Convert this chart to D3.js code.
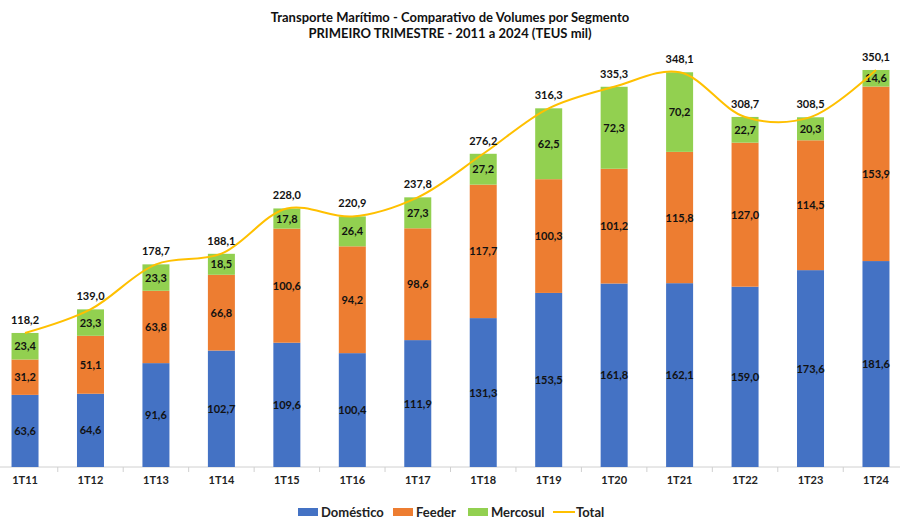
<!DOCTYPE html>
<html><head><meta charset="utf-8">
<script src="https://cdn.jsdelivr.net/npm/d3@7"></script>
<style>body{margin:0;background:#fff}svg{display:block;font-family:Lato,"Open Sans",sans-serif}</style>
</head><body><svg id="c" width="900" height="530"></svg>
<script>
const categories = ["1T11","1T12","1T13","1T14","1T15","1T16","1T17","1T18","1T19","1T20","1T21","1T22","1T23","1T24"];
const domestico = [63.6,64.6,91.6,102.7,109.6,100.4,111.9,131.3,153.5,161.8,162.1,159.0,173.6,181.6];
const feeder    = [31.2,51.1,63.8,66.8,100.6,94.2,98.6,117.7,100.3,101.2,115.8,127.0,114.5,153.9];
const mercosul  = [23.4,23.3,23.3,18.5,17.8,26.4,27.3,27.2,62.5,72.3,70.2,22.7,20.3,14.6];
const total     = [118.2,139.0,178.7,188.1,228.0,220.9,237.8,276.2,316.3,335.3,348.1,308.7,308.5,350.1];
const seriesNames = ["Doméstico","Feeder","Mercosul"];
const colors = {"Doméstico":"#4472C4","Feeder":"#ED7D31","Mercosul":"#92D050","Total":"#FFC000"};

const svg = d3.select("#c");
const fmt = v => d3.format(".1f")(v).replace(".", ",");

const x = d3.scaleBand().domain(categories).range([-7.7, 908.7]).paddingInner(0).paddingOuter(0);
const bw = 27;
const y = d3.scaleLinear().domain([0,400]).range([467, 13.4]);

const rows = categories.map((c,i)=>({cat:c,"Doméstico":domestico[i],"Feeder":feeder[i],"Mercosul":mercosul[i],total:total[i]}));
const stack = d3.stack().keys(seriesNames)(rows);

// title
svg.append("text").attr("x",450).attr("y",22).attr("text-anchor","middle")
  .attr("font-size",13).attr("font-weight","bold").attr("fill","#111")
  .text("Transporte Marítimo - Comparativo de Volumes por Segmento");
svg.append("text").attr("x",450).attr("y",38).attr("text-anchor","middle")
  .attr("font-size",13).attr("font-weight","bold").attr("fill","#111")
  .text("PRIMEIRO TRIMESTRE - 2011 a 2024 (TEUS mil)");

// axis
const xAxis = d3.axisBottom(x).tickSize(0).tickPadding(9);
const ax = svg.append("g").attr("transform","translate(0,467)").call(xAxis);
ax.select(".domain").attr("stroke","#d0d0d0").attr("d","M0,0H900");
ax.selectAll("text").attr("font-size",11).attr("font-weight","bold").attr("fill","#222").attr("font-family","Lato,sans-serif");
// tick separators
svg.append("g").selectAll("line").data(categories.slice(1)).join("line")
  .attr("x1",d=>x(d)).attr("x2",d=>x(d)).attr("y1",467).attr("y2",472)
  .attr("stroke","#d0d0d0");

// bars
const g = svg.append("g");
stack.forEach(s=>{
  const key = s.key;
  g.append("g").selectAll("rect").data(s).join("rect")
    .attr("x",d=>x(d.data.cat)+x.bandwidth()/2-bw/2)
    .attr("width",bw)
    .attr("y",d=>y(d[1]))
    .attr("height",d=>y(d[0])-y(d[1]))
    .attr("fill",colors[key]);
  g.append("g").selectAll("text").data(s).join("text")
    .attr("x",d=>x(d.data.cat)+x.bandwidth()/2)
    .attr("y",d=>(y(d[0])+y(d[1]))/2+4)
    .attr("text-anchor","middle").attr("font-size",11).attr("font-weight","bold")
    .attr("fill","#111")
    .text(d=>fmt(d.data[key]));
});

// total line
const line = d3.line().x((d,i)=>x(categories[i])+x.bandwidth()/2).y(d=>y(d)).curve(d3.curveCatmullRom.alpha(0.5));
svg.append("path").datum(total).attr("d",line).attr("fill","none").attr("stroke",colors.Total).attr("stroke-width",2);

// total labels
svg.append("g").selectAll("text").data(total).join("text")
  .attr("x",(d,i)=>x(categories[i])+x.bandwidth()/2)
  .attr("y",d=>y(d)-9)
  .attr("text-anchor","middle").attr("font-size",11).attr("font-weight","bold").attr("fill","#111")
  .text(d=>fmt(d));

// legend
const legend = [
  {name:"Doméstico", x:298, type:"rect"},
  {name:"Feeder", x:393, type:"rect"},
  {name:"Mercosul", x:468, type:"rect"},
  {name:"Total", x:553, type:"line"}
];
const lg = svg.append("g");
legend.forEach(l=>{
  if(l.type==="rect"){
    lg.append("rect").attr("x",l.x).attr("y",508).attr("width",20).attr("height",8).attr("fill",colors[l.name]);
  } else {
    lg.append("line").attr("x1",l.x).attr("x2",l.x+22).attr("y1",512).attr("y2",512).attr("stroke",colors.Total).attr("stroke-width",2);
  }
  lg.append("text").attr("x",l.x+23).attr("y",517).attr("font-size",13).attr("font-weight","bold").attr("fill","#222").text(l.name);
});
</script></body></html>
